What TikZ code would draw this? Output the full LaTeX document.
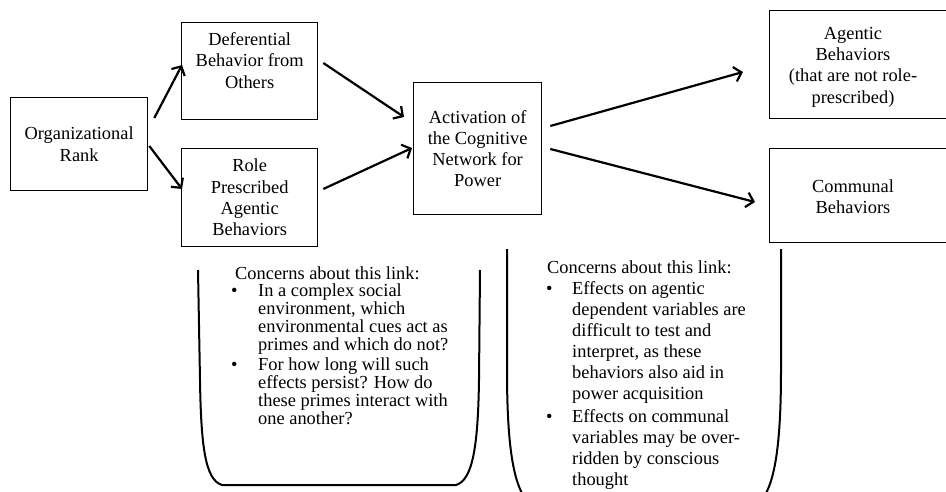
\documentclass[tikz,border=0pt]{standalone}
\usepackage{fontspec}
\setmainfont{Liberation Serif}
\usetikzlibrary{arrows.meta,calc}
\begin{document}
\begin{tikzpicture}[x=1pt,y=-1pt,
  box/.style={draw, line width=1.3pt, inner sep=0pt, anchor=north west},
  lbl/.style={align=center, inner sep=0pt, font=\fontsize{18.4}{21.3}\selectfont},
  arr/.style={line width=2.2pt, -{Straight Barb[length=7pt,width=15pt]}},
  brk/.style={line width=2pt},
  ln/.style={anchor=base west, inner sep=0pt, font=\fontsize{18.4}{21.3}\selectfont}]
\useasboundingbox (0,0) rectangle (946,492);
\clip (0,0) rectangle (946,492);
\fill[white] (0,0) rectangle (946,492);
% boxes
\node[box, lbl, minimum width=137pt, minimum height=93pt] (org) at (10,97) {Organizational\\Rank};
\node[box, lbl, minimum width=136pt, minimum height=97pt] (def) at (181,22) {Deferential\\Behavior from\\Others\\\mbox{}};
\node[box, lbl, minimum width=136pt, minimum height=98pt] (role) at (181,148) {Role\\Prescribed\\Agentic\\Behaviors};
\node[box, lbl, minimum width=128pt, minimum height=132pt] (act) at (413,82) {Activation of\\the Cognitive\\Network for\\Power};
\node[box, minimum width=200pt, minimum height=108pt] (ag) at (769,10) {};
\node[lbl] (agt) at (853,67) {Agentic\\Behaviors\\(that are not role-\\prescribed)};
\node[box, minimum width=200pt, minimum height=94pt] (com) at (769,148) {};
\node[lbl] (comt) at (853,197) {Communal\\Behaviors};
% arrows
\draw[arr] ($(org.north east)+(6,21)$) -- ($(def.north west)+(1,43)$);
\draw[arr] ($(org.north east)+(1,49)$) -- ($(role.north west)+(1,41)$);
\draw[arr] ($(def.north east)+(5,41)$) -- ($(act.north west)+(-9,35)$);
\draw[arr] ($(role.north east)+(5,41)$) -- ($(act.north west)+(-1,66)$);
\draw[arr] ($(act.north east)+(8,44)$) -- ($(ag.north west)+(-26,62)$);
\draw[arr] ($(act.north east)+(8,67)$) -- ($(com.north west)+(-14,54)$);
% brackets
\draw[brk] (198,270) -- (200,380) .. controls (201,445) and (205,480) .. (222,485) -- (456,485) .. controls (473,480) and (478,445) .. (479,380) -- (480,270);
\draw[brk] (507,249) -- (507,370) .. controls (507,450) and (514,498) .. (535,506) -- (753,506) .. controls (774,498) and (781,450) .. (781,370) -- (781,249);
% left concerns
\node[ln] (lc) at (235,279) {Concerns about this link:};
\node[ln] (lb1) at (231,296) {•};
\node[ln] (l1) at (258,296) {In a complex social};
\node[ln] (l2) at (258,314) {environment, which};
\node[ln] (l3) at (258,332) {environmental cues act as};
\node[ln] (l4) at (258,350) {primes and which do not?};
\node[ln] (lb2) at (231,370) {•};
\node[ln] (l5) at (258,370) {For how long will such};
\node[ln] (l6) at (258,388) {effects persist? How do};
\node[ln] (l7) at (258,406) {these primes interact with};
\node[ln] (l8) at (258,424) {one another?};
% right concerns
\node[ln] (rc) at (547,273) {Concerns about this link:};
\node[ln] (rb1) at (546,294) {•};
\node[ln] (r1) at (572,294) {Effects on agentic};
\node[ln] (r2) at (572,315) {dependent variables are};
\node[ln] (r3) at (572,336) {difficult to test and};
\node[ln] (r4) at (572,357) {interpret, as these};
\node[ln] (r5) at (572,378) {behaviors also aid in};
\node[ln] (r6) at (572,399) {power acquisition};
\node[ln] (rb2) at (546,422) {•};
\node[ln] (r7) at (572,422) {Effects on communal};
\node[ln] (r8) at (572,443) {variables may be over-};
\node[ln] (r9) at (572,464) {ridden by conscious};
\node[ln] (r10) at (572,485) {thought};
\end{tikzpicture}
\end{document}
